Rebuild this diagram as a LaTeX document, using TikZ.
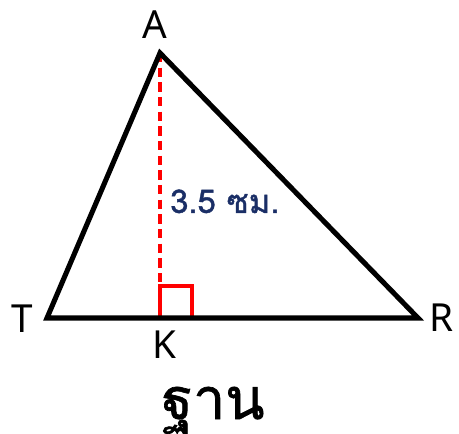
\documentclass[tikz,border=0pt]{standalone}
\usepackage{fontspec}
\setmainfont{Noto Sans}
\newfontfamily\thaifont[Script=Thai]{Loma}
\newfontfamily\thaibold[Script=Thai,FakeBold=1.2]{Loma}
\definecolor{navy}{HTML}{1A2E66}
\begin{document}
\begin{tikzpicture}[x=0.75pt,y=-0.75pt,
  edge/.style={line width=3.8pt,line join=miter},
  height/.style={red,line width=2.4pt,dash pattern=on 7pt off 4pt},
  lbl/.style={font=\fontsize{29}{32}\selectfont,inner sep=0pt}]
\useasboundingbox (0,0) rectangle (459,434);
\coordinate (A) at (160,53);
\coordinate (T) at (47,318);
\coordinate (R) at (418,318);
\coordinate (K) at (160,318);
\draw[height] (A) -- (K);
\draw[red,line width=2.4pt] (K) -- ++(0,-32) -- ++(32,0) -- ++(0,32);
\draw[edge] (T) -- (A) -- (R) -- cycle;
\node[lbl] (la) at (155,25) {A};
\node[lbl] (lt) at (22,319) {T};
\node[lbl] (lr) at (442,318) {R};
\node[lbl] (lk) at (164,345) {K};
\node[font=\thaibold\fontsize{24.5}{28}\selectfont,text=navy,inner sep=0pt,anchor=base west] (h) at (170,213) {3.5 ซม.};
\node[font=\thaibold\fontsize{43}{48}\selectfont,inner sep=0pt,anchor=base] (b) at (213,419) {ฐาน};
\end{tikzpicture}
\end{document}
